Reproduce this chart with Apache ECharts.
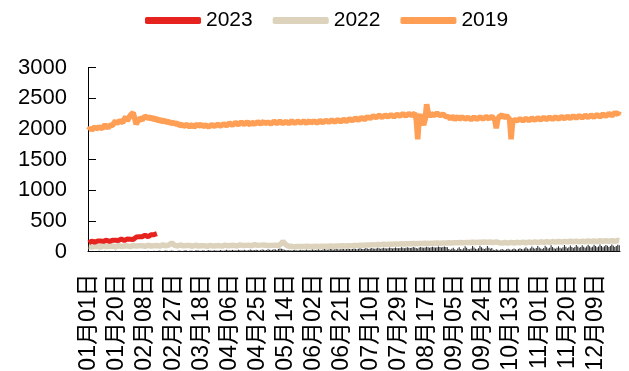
<!DOCTYPE html>
<html>
<head>
<meta charset="utf-8">
<script src="https://cdn.jsdelivr.net/npm/echarts@6/dist/echarts.min.js"></script>
<style>
  html, body { margin: 0; padding: 0; background: #fff; }
  #chart { width: 629px; height: 371px; }
</style>
</head>
<body>
<div id="chart"></div>
<script>
// Daily category axis: Jan 1 through Dec 25
const monthDays = [31, 28, 31, 30, 31, 30, 31, 31, 30, 31, 30, 25];
const days = [];
monthDays.forEach((n, m) => {
  for (let d = 1; d <= n; d++) {
    days.push(String(m + 1).padStart(2, '0') + '月' + String(d).padStart(2, '0') + '日');
  }
});

const yTicks = [0, 500, 1000, 1500, 2000, 2500, 3000];
const seriesNames = ['2023', '2022', '2019'];

const v2023 = [
  140, 155, 170, 165, 150, 158, 172, 180, 170, 158, 165, 178, 185, 175, 162, 170, 185, 195, 185, 172, 180, 195, 205, 192, 180, 190, 205, 215, 200, 185, 195,
  215, 235, 250, 240, 225, 240, 258, 268, 252, 240, 255, 272, 285, 275, 268, 292
];

const v2022 = [
  80, 85, 75, 70, 80, 90, 85, 78, 72, 80, 92, 88, 80, 75, 84, 95, 90, 82, 76, 85, 96, 90, 82, 78, 88, 98, 92, 85, 80, 90, 100,
  95, 88, 84, 92, 100, 95, 88, 84, 94, 102, 96, 90, 86, 95, 104, 98, 92, 88, 98, 108, 100, 94, 90, 105, 130, 140, 118, 100,
  95, 90, 98, 106, 100, 92, 88, 96, 104, 98, 90, 86, 95, 102, 96, 90, 85, 94, 100, 95, 88, 84, 92, 100, 94, 88, 85, 93, 102, 96, 90,
  88, 96, 104, 98, 92, 88, 97, 106, 100, 94, 90, 98, 108, 102, 96, 92, 100, 110, 104, 98, 94, 102, 112, 106, 100, 95, 104, 115, 108, 102,
  98, 102, 96, 92, 100, 108, 104, 98, 94, 102, 130, 165, 150, 110, 90, 82, 78, 84, 80, 76, 74, 82, 86, 80, 76, 80, 88, 84, 78, 82, 86,
  80, 76, 84, 88, 82, 78, 86, 92, 86, 80, 84, 92, 88, 82, 86, 95, 90, 84, 88, 98, 92, 86, 90, 100, 95, 88, 92, 104, 98, 92,
  96, 108, 102, 96, 100, 112, 106, 100, 104, 116, 110, 104, 108, 120, 114, 108, 112, 124, 118, 110, 115, 128, 120, 114, 118, 130, 124, 116, 120, 132, 126,
  118, 124, 136, 128, 122, 126, 138, 130, 124, 128, 140, 132, 126, 130, 142, 134, 128, 132, 145, 136, 130, 134, 146, 138, 132, 136, 148, 140, 134, 138, 150,
  142, 136, 140, 152, 144, 138, 142, 155, 146, 140, 144, 156, 148, 142, 146, 158, 150, 144, 148, 160, 152, 146, 150, 162, 154, 148, 152, 164, 155, 150,
  146, 150, 158, 150, 144, 140, 136, 140, 146, 140, 136, 140, 148, 142, 138, 142, 150, 144, 140, 144, 152, 146, 142, 146, 154, 148, 144, 148, 156, 150, 146,
  150, 158, 152, 148, 152, 160, 154, 150, 154, 162, 156, 152, 156, 164, 158, 154, 158, 166, 160, 156, 160, 168, 162, 158, 162, 170, 164, 158, 162, 170,
  164, 160, 164, 172, 166, 160, 164, 174, 168, 162, 166, 175, 170, 164, 168, 176, 170, 165, 168, 178, 172, 166, 170, 180, 175
];

const v2019 = [
  1980, 2020, 1975, 2000, 2035, 1995, 1985, 2030, 2050, 2005, 2020, 2065, 2035, 2010, 2060, 2090, 2055, 2080, 2130, 2085, 2070, 2135, 2150, 2100, 2160, 2195, 2130, 2170, 2220, 2245, 2265,
  2170, 2075, 2120, 2175, 2195, 2140, 2190, 2160, 2200, 2165, 2150, 2195, 2150, 2135, 2180, 2130, 2120, 2160, 2110, 2095, 2145, 2105, 2080, 2125, 2085, 2060, 2110, 2075,
  2055, 2095, 2050, 2025, 2075, 2040, 2020, 2070, 2085, 2035, 2025, 2070, 2020, 2030, 2080, 2045, 2025, 2075, 2040, 2015, 2060, 2080, 2030, 2020, 2070, 2085, 2040, 2030, 2075, 2090, 2045,
  2035, 2080, 2100, 2050, 2045, 2095, 2110, 2060, 2055, 2105, 2115, 2065, 2060, 2110, 2120, 2070, 2065, 2115, 2100, 2060, 2110, 2125, 2075, 2070, 2115, 2130, 2080, 2070, 2120, 2085,
  2065, 2110, 2130, 2080, 2075, 2125, 2140, 2085, 2075, 2125, 2135, 2085, 2070, 2120, 2135, 2085, 2080, 2130, 2140, 2090, 2075, 2125, 2145, 2095, 2080, 2130, 2140, 2090, 2085, 2135, 2095,
  2080, 2130, 2145, 2095, 2085, 2135, 2150, 2100, 2090, 2140, 2155, 2105, 2095, 2145, 2160, 2110, 2100, 2150, 2165, 2115, 2105, 2155, 2170, 2120, 2110, 2165, 2180, 2130, 2120, 2175,
  2190, 2140, 2130, 2185, 2200, 2150, 2145, 2195, 2215, 2170, 2160, 2210, 2230, 2185, 2170, 2220, 2235, 2185, 2175, 2225, 2240, 2195, 2180, 2230, 2245, 2195, 2185, 2235, 2255, 2210, 2195,
  2245, 2260, 2210, 2200, 2250, 2265, 2215, 2205, 2255, 2150, 1830, 2180, 2235, 2255, 2060, 2150, 2400, 2275, 2195, 2250, 2265, 2215, 2200, 2255, 2270, 2215, 2195, 2240, 2255, 2200, 2180,
  2195, 2155, 2210, 2200, 2150, 2160, 2205, 2155, 2145, 2195, 2210, 2160, 2145, 2185, 2200, 2150, 2140, 2190, 2205, 2155, 2145, 2195, 2210, 2160, 2150, 2200, 2215, 2165, 2155, 2205,
  2190, 2145, 2010, 2150, 2200, 2215, 2230, 2180, 2165, 2215, 2205, 2155, 1830, 2100, 2155, 2175, 2130, 2115, 2165, 2180, 2130, 2120, 2170, 2185, 2135, 2125, 2175, 2190, 2140, 2130, 2180,
  2195, 2145, 2135, 2185, 2200, 2150, 2140, 2190, 2205, 2155, 2145, 2195, 2210, 2160, 2150, 2200, 2215, 2165, 2155, 2205, 2220, 2170, 2160, 2210, 2225, 2175, 2165, 2215, 2230, 2180,
  2170, 2220, 2235, 2185, 2175, 2225, 2240, 2190, 2180, 2230, 2250, 2195, 2185, 2240, 2260, 2205, 2195, 2250, 2270, 2215, 2205, 2260, 2280, 2235, 2285
];

// Small dark daily bars along the baseline
const vBars = [
  5, 8, 3, 6, 10, 4, 7, 12, 6, 3, 9, 14, 8, 5, 10, 6, 4, 8, 12, 7, 3, 6, 10, 5, 8, 4, 2, 6, 9, 4, 7,
  3, 5, 2, 4, 8, 10, 6, 4, 9, 12, 8, 5, 10, 14, 9, 6, 11, 15, 10, 7, 12, 16, 11, 8, 12, 18, 13, 9,
  10, 14, 18, 12, 8, 13, 20, 15, 10, 12, 18, 14, 9, 15, 22, 16, 12, 14, 20, 15, 10, 16, 24, 18, 12, 15, 22, 17, 13, 18, 25,
  18, 14, 20, 28, 22, 16, 20, 26, 20, 15, 22, 30, 24, 18, 22, 28, 22, 16, 24, 32, 26, 20, 24, 30, 24, 18, 26, 34, 28, 22,
  26, 36, 30, 24, 28, 38, 32, 26, 40, 48, 44, 38, 30, 24, 20, 26, 22, 18, 24, 28, 22, 18, 24, 30, 24, 20, 26, 32, 26, 22, 28,
  34, 28, 24, 30, 36, 30, 26, 32, 40, 34, 28, 34, 42, 36, 30, 36, 44, 38, 32, 38, 46, 40, 34, 40, 48, 42, 36, 42, 50, 44,
  38, 44, 54, 46, 40, 46, 56, 48, 42, 48, 58, 50, 44, 50, 60, 52, 46, 52, 62, 54, 48, 54, 64, 56, 50, 56, 66, 58, 52, 58, 68,
  60, 54, 60, 70, 62, 56, 62, 72, 64, 58, 50, 64, 74, 66, 60, 66, 76, 68, 62, 68, 78, 70, 64, 70, 80, 72, 66, 72, 82, 74, 68,
  40, 30, 45, 60, 35, 25, 50, 70, 42, 32, 55, 85, 60, 40, 35, 48, 90, 65, 45, 38, 52, 95, 70, 48, 40, 55, 88, 62, 44, 58,
  30, 25, 35, 28, 22, 32, 40, 30, 26, 38, 45, 34, 28, 36, 50, 38, 30, 42, 55, 40, 34, 48, 70, 50, 38, 52, 80, 60, 44, 56, 90,
  65, 48, 40, 58, 95, 70, 50, 62, 100, 75, 52, 45, 60, 85, 62, 48, 70, 105, 78, 55, 68, 98, 72, 58, 75, 108, 80, 60, 72, 102,
  78, 62, 80, 110, 85, 65, 78, 112, 88, 68, 82, 115, 90, 70, 85, 108, 92, 72, 88, 115, 95, 75, 90, 112, 100
];

const FONT = '"Liberation Sans", Arial, "Noto Sans CJK SC", sans-serif';
const chart = echarts.init(document.getElementById('chart'), null, { renderer: 'canvas' });

chart.setOption({
  animation: false,
  backgroundColor: '#ffffff',
  textStyle: { fontFamily: FONT },
  legend: {
    data: seriesNames,
    left: 140,
    top: 5,
    itemWidth: 56,
    itemHeight: 7,
    itemGap: 20,
    icon: 'roundRect',
    textStyle: { fontSize: 21, color: '#000', fontFamily: FONT }
  },
  grid: {
    left: 88, right: 9, top: 67.5, bottom: 119.5,
    containLabel: false,
    outerBoundsMode: 'none'
  },
  xAxis: {
    type: 'category',
    data: days,
    boundaryGap: true,
    axisLine: { lineStyle: { color: '#000', width: 1 } },
    axisTick: { show: false },
    axisLabel: {
      interval: 18,
      rotate: 90,
      margin: 22,
      fontSize: 23,
      color: '#000',
      fontFamily: FONT
    },
    splitLine: { show: false }
  },
  yAxis: {
    type: 'value',
    min: yTicks[0],
    max: yTicks[yTicks.length - 1],
    interval: 500,
    axisLine: { show: true, lineStyle: { color: '#000', width: 1 } },
    axisTick: { show: true, inside: true, length: 8, lineStyle: { color: '#000' } },
    axisLabel: {
      margin: 21,
      fontSize: 22,
      color: '#000',
      fontFamily: FONT,
      formatter: (v) => String(v)
    },
    splitLine: { show: false }
  },
  series: [
    {
      name: 'baseline',
      type: 'bar',
      data: vBars,
      barWidth: '70%',
      itemStyle: { color: '#262626' },
      z: 1
    },
    {
      name: '2019',
      type: 'line',
      data: v2019,
      symbol: 'none',
      lineStyle: { color: '#FF9F55', width: 5.5 },
      itemStyle: { color: '#FF9F55' },
      z: 2
    },
    {
      name: '2022',
      type: 'line',
      data: v2022,
      symbol: 'none',
      lineStyle: { color: '#DDD3BC', width: 5.5 },
      itemStyle: { color: '#DDD3BC' },
      z: 3
    },
    {
      name: '2023',
      type: 'line',
      data: v2023,
      symbol: 'none',
      lineStyle: { color: '#E6231E', width: 5 },
      itemStyle: { color: '#E6231E' },
      z: 4
    }
  ]
});
</script>
</body>
</html>
